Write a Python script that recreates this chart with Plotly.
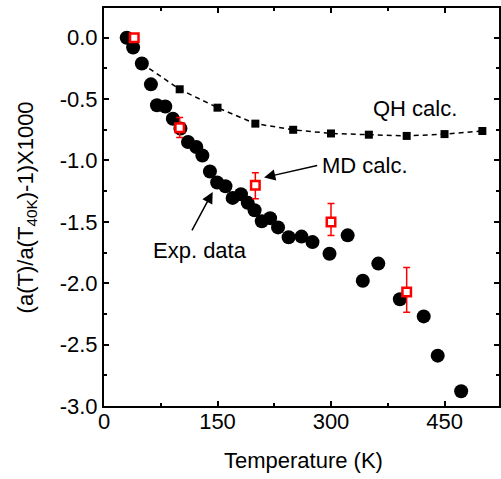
import plotly.graph_objects as go

# Experimental data (black circles)
exp_T = [30, 38.5, 50, 62, 70, 81, 91, 101, 111, 122, 130, 140, 149.5, 160.5, 170,
         181, 190, 199, 208.5, 219.5, 230, 244, 261, 275.5, 298, 322, 342, 362.5,
         391, 422.5, 441, 472]
exp_y = [0.00, -0.08, -0.21, -0.38, -0.55, -0.56, -0.66, -0.74, -0.85, -0.89, -0.96,
         -1.09, -1.18, -1.21, -1.305, -1.275, -1.345, -1.405, -1.495, -1.47, -1.545,
         -1.625, -1.62, -1.665, -1.76, -1.61, -1.98, -1.84, -2.13, -2.27, -2.59, -2.88]

# QH calculation (black squares, dashed line)
qh_T = [50, 100, 150, 200, 250, 300, 350, 400, 450, 500]
qh_y = [-0.21, -0.42, -0.57, -0.70, -0.75, -0.78, -0.79, -0.80, -0.785, -0.76]

# MD calculation (red open squares with error bars)
md_T = [40, 100, 200, 300, 400]
md_y = [0.0, -0.734, -1.201, -1.501, -2.072]
md_err_plus = [0.0, 0.085, 0.10, 0.15, 0.20]
md_err_minus = [0.0, 0.078, 0.11, 0.11, 0.165]

x_ticks = [0, 150, 300, 450]
x_ticktext = ["0", "150", "300", "450"]
y_ticks = [0.0, -0.5, -1.0, -1.5, -2.0, -2.5, -3.0]
y_ticktext = ["0.0", "-0.5", "-1.0", "-1.5", "-2.0", "-2.5", "-3.0"]

FONT = "Liberation Sans, Arial, sans-serif"
FS = 22

fig = go.Figure()
fig.add_trace(go.Scatter(
    x=qh_T, y=qh_y, mode="lines+markers",
    line=dict(color="black", width=1.5, dash="5px,4px"),
    marker=dict(symbol="square", size=8, color="black"),
    showlegend=False))
fig.add_trace(go.Scatter(
    x=exp_T, y=exp_y, mode="markers",
    marker=dict(symbol="circle", size=14, color="black"),
    showlegend=False))
fig.add_trace(go.Scatter(
    x=md_T, y=md_y, mode="markers",
    marker=dict(symbol="square", size=8.5, color="white",
                line=dict(color="#ff0000", width=2.5)),
    error_y=dict(type="data", symmetric=False, array=md_err_plus,
                 arrayminus=md_err_minus, color="#ff0000", thickness=1.5, width=3.5),
    showlegend=False))

axis_common = dict(
    showline=True, linecolor="black", linewidth=2, mirror="ticks",
    ticks="inside", ticklen=5, tickwidth=1.5, tickcolor="black",
    showgrid=False, zeroline=False,
    tickfont=dict(family=FONT, size=FS, color="black"),
)

fig.update_xaxes(range=[0, 522], tickvals=x_ticks, ticktext=x_ticktext,
                 minor=dict(dtick=75, tick0=0, ticks="inside", ticklen=3,
                            tickwidth=1.5, tickcolor="black"),
                 ticklabelstandoff=-5,
                 **axis_common)
fig.update_yaxes(range=[-3.0, 0.242], tickvals=y_ticks, ticktext=y_ticktext,
                 minor=dict(dtick=0.25, tick0=0, ticks="inside", ticklen=3,
                            tickwidth=1.5, tickcolor="black"),
                 ticklabelstandoff=0,
                 **axis_common)

ann_font = dict(family=FONT, size=FS, color="black")
fig.update_layout(
    width=501, height=479,
    margin=dict(l=104, r=0, t=8, b=73),
    paper_bgcolor="white", plot_bgcolor="white",
    annotations=[
        dict(text="Temperature (K)", xref="paper", yref="paper", x=0.504, y=-0.136,
             xanchor="center", yanchor="middle", showarrow=False, font=ann_font),
        dict(text="(a(T)/a(T<sub>40K</sub>)-1)X1000", xref="paper", yref="paper",
             x=-0.196, y=0.498, xanchor="center", yanchor="middle", textangle=-90,
             showarrow=False, font=ann_font),
        dict(text="QH calc.", x=353, y=-0.573, xref="x", yref="y",
             xanchor="left", yanchor="middle", showarrow=False, font=ann_font),
        dict(text="MD calc.", x=285, y=-1.038, xref="x", yref="y",
             xanchor="left", yanchor="middle", showarrow=False, font=ann_font),
        dict(text="Exp. data", x=62.7, y=-1.73, xref="x", yref="y",
             xanchor="left", yanchor="middle", showarrow=False, font=ann_font),
        dict(text="", x=211.5, y=-1.139, ax=283.7, ay=-1.038, xref="x", yref="y",
             axref="x", ayref="y", showarrow=True, arrowhead=2, arrowsize=1.5,
             arrowwidth=1.5, arrowcolor="black"),
        dict(text="", x=143.6, y=-1.256, ax=115.2, ay=-1.582, xref="x", yref="y",
             axref="x", ayref="y", showarrow=True, arrowhead=2, arrowsize=1.5,
             arrowwidth=1.5, arrowcolor="black"),
    ],
)

fig.write_html("out.html", config={"displayModeBar": False},
               post_script="document.body.style.margin='0';document.body.style.padding='0';")
